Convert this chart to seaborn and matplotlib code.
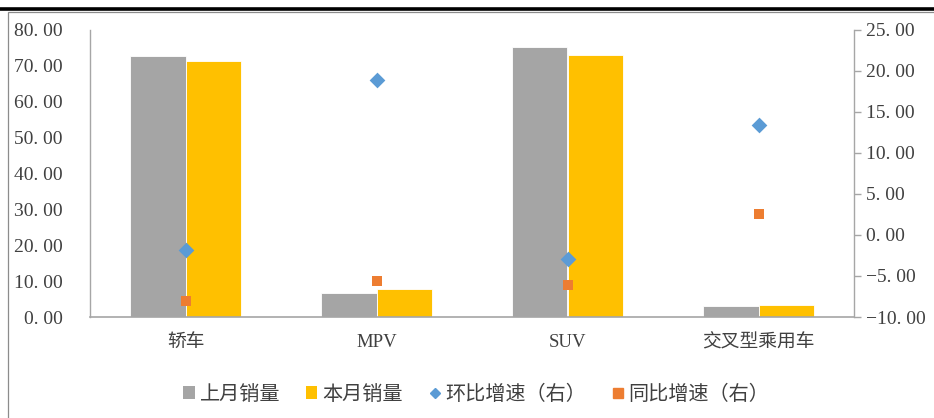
import matplotlib
matplotlib.use("Agg")
import matplotlib.pyplot as plt
from matplotlib.patches import Patch, Rectangle
from matplotlib.lines import Line2D
import seaborn as sns
import pandas as pd

categories = ["轿车", "MPV", "SUV", "交叉型乘用车"]
last_month = [72.7, 6.6, 75.0, 3.1]
this_month = [71.3, 7.8, 72.8, 3.4]
mom_growth = [-1.8, 18.9, -2.9, 13.4]
yoy_growth = [-8.0, -5.6, -6.1, 2.6]
series_names = ["上月销量", "本月销量", "环比增速（右）", "同比增速（右）"]
left_ticks = [0, 10, 20, 30, 40, 50, 60, 70, 80]
right_ticks = [-10, -5, 0, 5, 10, 15, 20, 25]

C_GREY = "#A5A5A5"
C_YEL = "#FFC000"
C_BLUE = "#5B9BD5"
C_ORG = "#ED7D31"
TXT = "#404040"
SPINE = "#A6A6A6"

sns.set_theme(style="white")
plt.rcParams["font.family"] = ["Liberation Serif", "Noto Sans CJK SC", "DejaVu Sans"]

df = pd.DataFrame({
    "cat": categories * 2,
    "series": [series_names[0]] * 4 + [series_names[1]] * 4,
    "value": last_month + this_month,
})

fig = plt.figure(figsize=(9.34, 4.18), dpi=100)
ax = fig.add_axes([90 / 934, 1 - 317 / 418, (854 - 90) / 934, (317 - 29.5) / 418])

sns.barplot(data=df, x="cat", y="value", hue="series", order=categories,
            palette=[C_GREY, C_YEL], width=0.576, ax=ax, legend=False,
            edgecolor="white", linewidth=0.6, saturation=1)

ax2 = ax.twinx()
sns.stripplot(x=categories, y=mom_growth, ax=ax2, jitter=False, marker="D",
              color=C_BLUE, size=8, linewidth=0, order=categories)
sns.stripplot(x=categories, y=yoy_growth, ax=ax2, jitter=False, marker="s",
              color=C_ORG, size=7.5, linewidth=0, order=categories)

for a in (ax, ax2):
    a.set_xlim(-0.5, 3.5)
    a.set_xlabel("")
    a.set_ylabel("")
    a.grid(False)
    for s in a.spines.values():
        s.set_visible(False)

ax.set_ylim(0, 80)
ax.set_yticks(left_ticks)
ax.set_yticklabels([f"{v:.2f}".replace(".", ". ") for v in left_ticks],
                   fontsize=14, color=TXT)
ax.tick_params(axis="y", length=0, pad=19.5)
ax.spines["left"].set_visible(True)
ax.spines["left"].set_color(SPINE)
ax.spines["bottom"].set_visible(True)
ax.spines["bottom"].set_color(SPINE)
ax.spines["left"].set_linewidth(1)
ax.spines["bottom"].set_linewidth(1.2)
ax.set_xticks(range(len(categories)))
ax.set_xticklabels(categories, fontsize=13.5, color=TXT)
ax.tick_params(axis="x", length=0, pad=12)

ax2.set_ylim(-10, 25)
ax2.set_yticks(right_ticks)
ax2.set_yticklabels([f"{v:.2f}".replace(".", ". ").replace("-", "−") for v in right_ticks],
                    fontsize=14, color=TXT)
ax2.tick_params(axis="y", length=5, width=1, color=SPINE, pad=4, direction="out")
ax2.spines["right"].set_visible(True)
ax2.spines["right"].set_color(SPINE)
ax2.spines["right"].set_linewidth(1)

# frame decorations
fig.add_artist(Line2D([0, 1], [1 - 9 / 418, 1 - 9 / 418], transform=fig.transFigure,
                      color="black", linewidth=2.6))
fig.add_artist(Rectangle((8 / 934, -0.1), 1.2, 1 - 12.5 / 418 + 0.1,
                         transform=fig.transFigure, fill=False,
                         edgecolor="#8C8C8C", linewidth=0.9))

handles = [
    Patch(facecolor=C_GREY, edgecolor="none"),
    Patch(facecolor=C_YEL, edgecolor="none"),
    Line2D([], [], marker="D", color=C_BLUE, linestyle="none", markersize=5.5),
    Line2D([], [], marker="s", color=C_ORG, linestyle="none", markersize=7),
]
leg = fig.legend(handles, series_names, loc="center", bbox_to_anchor=(0.51, 1 - 395 / 418),
                 ncol=4, frameon=False, fontsize=14.5, handlelength=0.55,
                 handleheight=0.55, handletextpad=0.25, columnspacing=1.3)
for t in leg.get_texts():
    t.set_color(TXT)

fig.savefig("out.png", dpi=100)
